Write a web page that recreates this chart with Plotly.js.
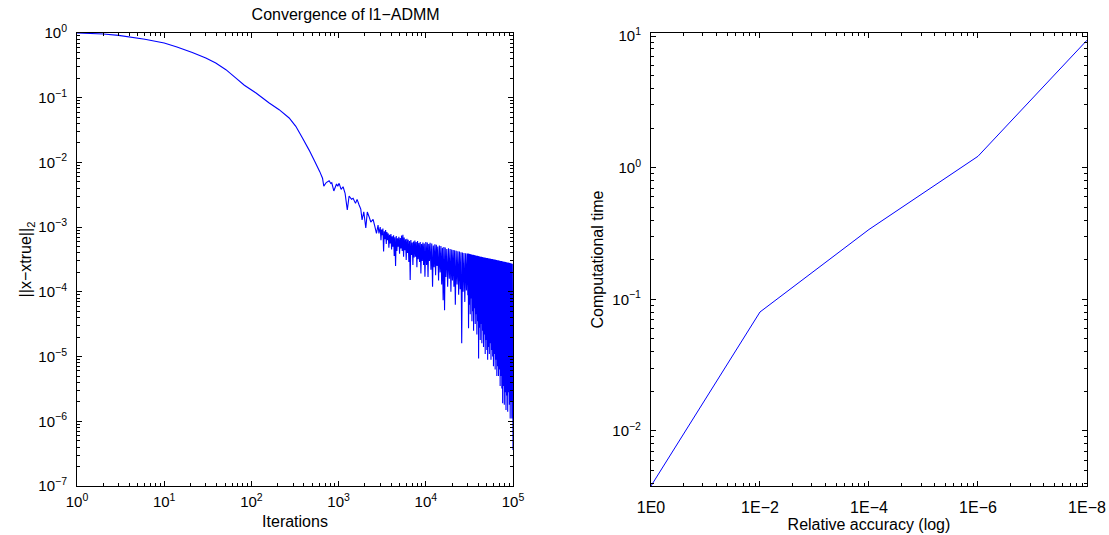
<!DOCTYPE html>
<html>
<head>
<meta charset="utf-8">
<script src="https://cdn.plot.ly/plotly-3.0.1.min.js"></script>
<style>html,body{margin:0;padding:0;background:#fff;}#chart{width:1109px;height:535px;}</style>
</head>
<body>
<div id="chart"></div>
<script>
// ---- Left panel: convergence of l1-ADMM ----
const iterations = [
  1, 2, 3, 6, 10, 14, 21, 30, 39, 51, 66, 83, 113, 160, 208, 271, 323, 385, 459, 530, 608, 654, 676,
  722, 778, 814, 835, 881, 946, 979, 1013, 1069, 1125, 1187, 1258, 1319, 1406, 1466, 1563, 1629, 1718,
  1796, 1858, 1944, 2050, 2133, 2235, 2339, 2485, 2598, 2717, 2834,
  2900, 3000, 3060, 3110, 3170, 3220, 3280, 3340, 3400, 3460, 3520,
  3580, 3640, 3710, 3770, 3840, 3910, 3980, 4050, 4120, 4190,
  4270, 4340, 4420, 4500, 4580, 4660, 4740, 4830, 4910, 5000,
  5090, 5180, 5270, 5360, 5460, 5560, 5650, 5750, 5860, 5960,
  6070, 6170, 6280, 6390, 6510, 6620, 6740, 6860, 6980, 7110,
  7230, 7360, 7490, 7630, 7760, 7900, 8040, 8180, 8330, 8480,
  8630, 8780, 8940, 9100, 9260, 9430, 9600, 9770,
  10000, 10200, 10400, 10600, 10800, 11000, 11200, 11450, 11700, 11950, 12200, 12450, 12700, 12950,
  13200, 13450, 13700, 14000, 14300, 14600, 14900, 15200, 15500, 15800, 16100, 16400, 16700, 17000,
  17400, 17800, 18200, 18600, 19000, 19400, 19800, 20200, 20600, 21000, 21400, 21800, 22300, 22800,
  23300, 23800, 24300, 24800, 25300, 25800, 26300, 26800, 27400, 28000, 28600, 29200, 29800,
  30300, 30600, 30900, 31300, 31600, 32000, 32300, 32700, 33000, 33400,
  33800, 34100, 34500, 34900, 35300, 35700, 36100, 36500, 36900, 37300,
  37700, 38100, 38500, 39000, 39400, 39800, 40300, 40700, 41200, 41600,
  42100, 42500, 43000, 43500, 43900, 44400, 44900, 45400, 45900, 46400,
  46900, 47400, 48000, 48500, 49000, 49600, 50100, 50700, 51200, 51800,
  52300, 52900, 53500, 54100, 54700, 55300, 55900, 56500, 57100, 57800,
  58400, 59100, 59700, 60400, 61000, 61700, 62400, 63100, 63800, 64500,
  65200, 65900, 66600, 67400, 68100, 68900, 69600, 70400, 71200, 72000,
  72800, 73600, 74400, 75200, 76100, 76900, 77800, 78600, 79500, 80400,
  81300, 82200, 83100, 84000, 85000, 85900, 86900, 87800, 88800, 89800,
  90800, 91800, 92800, 93800, 94900, 95900, 97000, 98100, 100000
];
const errorNorm = [
  1.0, 0.966, 0.92, 0.80, 0.70, 0.608, 0.50, 0.41, 0.343, 0.271, 0.202, 0.156, 0.118, 0.0828, 0.0653, 0.0486, 0.0361, 0.0238, 0.0155, 0.0105, 0.0072, 0.0057, 0.0043,
  4.89e-3, 5.22e-3, 4.72e-3, 4.85e-3, 3.62e-3, 4.64e-3, 4.3e-3, 4.75e-3, 3.84e-3, 4.21e-3, 3.33e-3, 1.84e-3, 3.03e-3, 2.69e-3, 2.79e-3, 2.33e-3, 2.69e-3, 2.20e-3,
  1.9e-3, 1.29e-3, 1.73e-3, 9.7e-4, 1.71e-3, 1.45e-3, 1.20e-3, 1.32e-3, 1.04e-3, 8.0e-4, 1.08e-3,
  8.0e-4, 1.0e-3, 6.3e-4, 9.2e-4, 7.5e-4, 9.5e-4, 4.2e-4, 8.6e-4, 6.5e-4, 9.0e-4, 5.5e-4,
  8.4e-4, 6.3e-4, 8.0e-4, 4.8e-4, 7.6e-4, 5.6e-4, 7.8e-4, 4.5e-4, 7.2e-4, 5.0e-4,
  7.5e-4, 3.6e-4, 7.0e-4, 2.5e-4, 7.3e-4, 4.3e-4, 6.7e-4, 5.0e-4, 7.1e-4, 3.9e-4,
  6.8e-4, 4.7e-4, 7.4e-4, 4.3e-4, 7.6e-4, 3.5e-4, 6.9e-4, 4.4e-4, 6.5e-4, 3.1e-4,
  6.6e-4, 4.0e-4, 6.4e-4, 2.9e-4, 6.1e-4, 1.52e-4, 6.3e-4, 3.7e-4, 5.8e-4, 2.6e-4,
  6.0e-4, 3.4e-4, 6.2e-4, 3.5e-4, 5.9e-4, 2.4e-4, 6.1e-4, 3.2e-4, 5.7e-4, 2.89e-4,
  5.9e-4, 1.93e-4, 5.5e-4, 3.0e-4, 5.8e-4, 2.6e-4, 5.6e-4, 1.71e-4,
  5.9e-4, 2.6e-4, 5.8e-4, 1.7e-4, 5.5e-4, 3.0e-4, 5.75e-4, 2.2e-4, 5.6e-4, 1.2e-4, 5.2e-4, 2.4e-4, 5.45e-4, 1.8e-4,
  5.35e-4, 2.5e-4, 5.0e-4, 1.5e-4, 5.2e-4, 2.0e-4, 5.1e-4, 1.3e-4, 4.8e-4, 7.4e-5, 4.95e-4, 5.2e-5, 4.85e-4, 1.7e-4,
  4.6e-4, 1.2e-4, 4.7e-4, 1.6e-4, 4.6e-4, 1.0e-4, 4.5e-4, 1.5e-4, 4.45e-4, 1.2e-4, 4.4e-4, 6.3e-5, 4.3e-4, 1.3e-4,
  4.25e-4, 9e-5, 4.2e-4, 1.1e-4, 4.1e-4, 1.6e-5, 4.05e-4, 1.0e-4, 4.0e-4, 7e-5, 3.95e-4, 1.05e-4, 3.9e-4,
  8.9e-5, 3.90e-4, 2.75e-5, 3.87e-4, 6.3e-5, 3.84e-4, 4.5e-5, 3.81e-4, 7.9e-5, 3.78e-4,
  3.5e-5, 3.76e-4, 5.0e-5, 3.73e-4, 2.5e-5, 3.70e-4, 5.6e-5, 3.67e-4, 3.2e-5, 3.65e-4,
  4.5e-5, 3.62e-4, 2.2e-5, 3.60e-4, 3.5e-5, 3.57e-4, 9.3e-6, 3.55e-4, 2.8e-5, 3.52e-4,
  1.8e-5, 3.50e-4, 3.2e-5, 3.48e-4, 1.6e-5, 3.45e-4, 2.5e-5, 3.43e-4, 1.4e-5, 3.41e-4,
  2.2e-5, 3.39e-4, 1.1e-5, 3.37e-4, 1.8e-5, 3.35e-4, 1.26e-5, 3.33e-4, 8.9e-6, 3.31e-4,
  1.4e-5, 3.29e-4, 1.1e-5, 3.27e-4, 1.6e-5, 3.25e-4, 8.9e-6, 3.23e-4, 1.26e-5, 3.21e-4,
  1.0e-5, 3.19e-4, 7.1e-6, 3.17e-4, 1.1e-5, 3.15e-4, 6.3e-6, 3.13e-4, 8.9e-6, 3.11e-4,
  5.0e-6, 3.09e-4, 7.1e-6, 3.07e-4, 5.0e-6, 3.05e-4, 6.3e-6, 3.03e-4, 3.5e-6, 3.01e-4,
  5.0e-6, 2.99e-4, 3.2e-6, 2.97e-4, 1.9e-6, 2.95e-4, 3.5e-6, 2.93e-4, 1.8e-6, 2.91e-4,
  2.8e-6, 2.89e-4, 1.5e-6, 2.87e-4, 2.5e-6, 2.85e-4, 1.4e-6, 2.83e-4, 2.8e-6, 2.81e-4,
  1.8e-6, 2.79e-4, 1.1e-6, 2.77e-4, 2.0e-6, 2.74e-4, 1.1e-6, 2.71e-4, 3.6e-7
];

// ---- Right panel: computational time vs relative accuracy ----
const accuracyLabels = ['1E0', '1E\u22122', '1E\u22124', '1E\u22126', '1E\u22128'];
const accuracyLevel = [1, 10, 100, 1000, 10000];
const computationalTime = [0.00381, 0.080, 0.339, 1.22, 9.3];

// ---- Tick labels ----
const iterTickVals = [1, 10, 100, 1000, 10000, 100000];
const iterTickText = ['10<sup>0</sup>', '10<sup>1</sup>', '10<sup>2</sup>', '10<sup>3</sup>', '10<sup>4</sup>', '10<sup>5</sup>'];
const errTickVals = [1e-7, 1e-6, 1e-5, 1e-4, 1e-3, 1e-2, 1e-1, 1];
const errTickText = ['10<sup>\u22127</sup>', '10<sup>\u22126</sup>', '10<sup>\u22125</sup>', '10<sup>\u22124</sup>',
                     '10<sup>\u22123</sup>', '10<sup>\u22122</sup>', '10<sup>\u22121</sup>', '10<sup>0</sup>'];
const timeTickVals = [1e-2, 1e-1, 1, 10];
const timeTickText = ['10<sup>\u22122</sup>', '10<sup>\u22121</sup>', '10<sup>0</sup>', '10<sup>1</sup>'];

function minorLogTicks(lo, hi) {
  const v = [];
  for (let k = lo; k < hi; k++) for (let m = 2; m <= 9; m++) v.push(m * Math.pow(10, k));
  return v;
}

const FONT = 'Liberation Sans, Arial, Helvetica, sans-serif';
function axis(extra) {
  return Object.assign({
    type: 'log', showline: true, linecolor: '#000', linewidth: 1, mirror: 'ticks',
    ticks: 'inside', ticklen: 5, tickwidth: 1, tickcolor: '#000',
    showgrid: false, zeroline: false, tickmode: 'array',
    tickfont: {family: FONT, size: 15, color: '#000'}
  }, extra);
}
function minor(vals) {
  return {tickmode: 'array', tickvals: vals, ticks: 'inside', ticklen: 3, tickwidth: 1, tickcolor: '#000', showgrid: false};
}

const traces = [
  {x: iterations, y: errorNorm, type: 'scatter', mode: 'lines', line: {color: '#0000ff', width: 1.1, simplify: false}, xaxis: 'x', yaxis: 'y', hoverinfo: 'skip'},
  {x: accuracyLevel, y: computationalTime, type: 'scatter', mode: 'lines', line: {color: '#0000ff', width: 1, simplify: false}, xaxis: 'x2', yaxis: 'y2', hoverinfo: 'skip'}
];

const layout = {
  width: 1109, height: 535,
  margin: {l: 77, r: 22, t: 33, b: 49},
  paper_bgcolor: '#fff', plot_bgcolor: '#fff',
  showlegend: false,
  font: {family: FONT, color: '#000'},
  title: {text: 'Convergence of l1\u2212ADMM', x: 295 / 1109, xanchor: 'center', xref: 'paper',
          y: 1 - 14 / 535, yanchor: 'middle', yref: 'container', font: {family: FONT, size: 16, color: '#000'}},
  xaxis: axis({domain: [0, 0.4317], anchor: 'y', range: [0, 5], tickvals: iterTickVals, ticktext: iterTickText,
               minor: minor(minorLogTicks(0, 5)), ticklabelstandoff: 2,
               title: {text: 'Iterations', font: {family: FONT, size: 16, color: '#000'}, standoff: 6}}),
  yaxis: axis({domain: [0, 1], anchor: 'x', range: [-7, 0], tickvals: errTickVals, ticktext: errTickText,
               minor: minor(minorLogTicks(-7, 0)), ticklabelstandoff: 6,
               title: {text: '||x\u2212xtrue||<sub>2</sub>', font: {family: FONT, size: 16, color: '#000'}, standoff: 2}}),
  xaxis2: axis({domain: [0.5683, 1], anchor: 'y2', range: [0, 4], tickvals: accuracyLevel, ticktext: accuracyLabels,
                tickfont: {family: FONT, size: 16, color: '#000'},
                minor: minor(minorLogTicks(0, 4)), ticklabelstandoff: 7,
                title: {text: 'Relative accuracy (log)', font: {family: FONT, size: 16, color: '#000'}, standoff: 2}}),
  yaxis2: axis({domain: [0, 1], anchor: 'x2', range: [Math.log10(0.00381), Math.log10(10.55)], tickvals: timeTickVals, ticktext: timeTickText,
                minor: minor(minorLogTicks(-3, 2)), ticklabelstandoff: 6,
                title: {text: 'Computational time', font: {family: FONT, size: 16, color: '#000'}, standoff: 4}})
};

Plotly.newPlot('chart', traces, layout, {displayModeBar: false, staticPlot: true});
</script>
</body>
</html>
